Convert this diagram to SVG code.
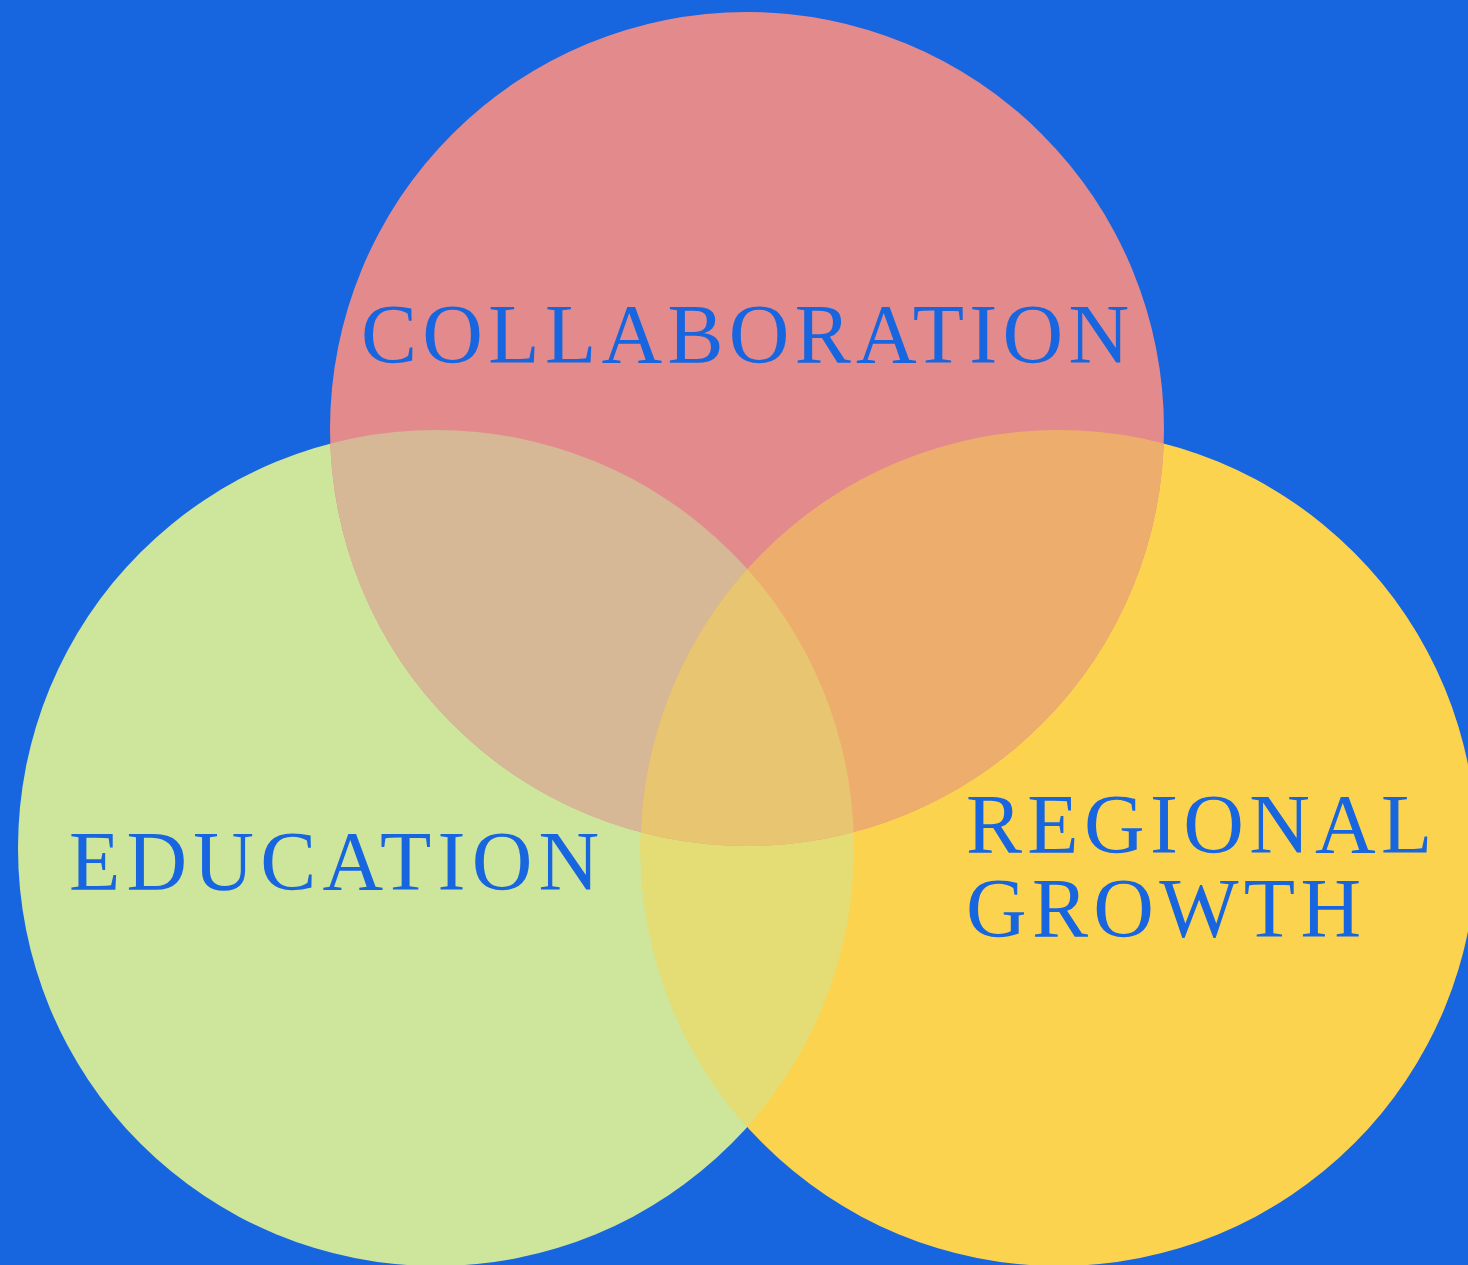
<svg xmlns="http://www.w3.org/2000/svg" width="1468" height="1265" viewBox="0 0 1468 1265">
  <style>
    .label { font-family: "Liberation Serif", "Times New Roman", serif; font-size: 84px; fill: #1866DF; letter-spacing: 5.3px; }
    .wide { letter-spacing: 6.2px; }
  </style>
  <defs>
    <clipPath id="clipTop"><circle cx="747" cy="429" r="417"/></clipPath>
    <clipPath id="clipLeft"><circle cx="436" cy="848" r="418"/></clipPath>
    <clipPath id="clipRight"><circle cx="1058.5" cy="848" r="418"/></clipPath>
  </defs>
  <rect width="1468" height="1265" fill="#1765DF"/>

  <!-- base circles -->
  <g id="circle-education"><circle cx="436" cy="848" r="418" fill="#CEE69C"/></g>
  <g id="circle-growth"><circle cx="1058.5" cy="848" r="418" fill="#FCD34F"/></g>
  <g id="circle-collaboration"><circle cx="747" cy="429" r="417" fill="#E38A8C"/></g>

  <!-- overlap regions -->
  <g id="overlaps">
    <circle cx="436" cy="848" r="418" fill="#E4DC75" clip-path="url(#clipRight)"/>
    <circle cx="747" cy="429" r="417" fill="#D6B897" clip-path="url(#clipLeft)"/>
    <circle cx="747" cy="429" r="417" fill="#EDAE6D" clip-path="url(#clipRight)"/>
    <g clip-path="url(#clipRight)">
      <circle cx="747" cy="429" r="417" fill="#E7C571" clip-path="url(#clipLeft)"/>
    </g>
  </g>

  <!-- labels -->
  <text class="label" x="361" y="363">COLLABORATION</text>
  <text class="label wide" x="69" y="890">EDUCATION</text>
  <text class="label" x="966" y="853">REGIONAL</text>
  <text class="label" x="966" y="937">GROWTH</text>
</svg>
